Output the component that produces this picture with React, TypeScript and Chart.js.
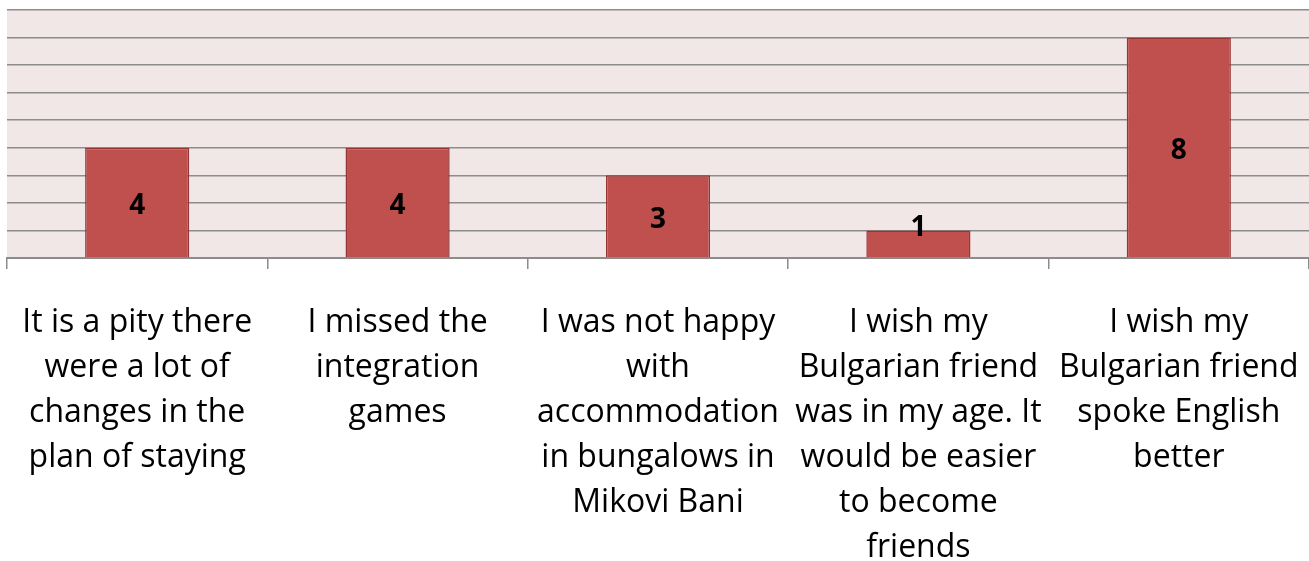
import React, { useEffect, useRef } from "react";
import { Chart, registerables } from "chart.js";

Chart.register(...registerables);

const categories: string[][] = [
  ["It is a pity there", "were a lot of", "changes in the", "plan of staying"],
  ["I missed the", "integration", "games"],
  ["I was not happy", "with", "accommodation", "in bungalows in", "Mikovi Bani"],
  ["I wish my", "Bulgarian friend", "was in my age. It", "would be easier", "to become", "friends"],
  ["I wish my", "Bulgarian friend", "spoke English", "better"],
];
const values: number[] = [4, 4, 3, 1, 8];
const yMax = 9;

const bgPlugin = {
  id: "bgPlugin",
  beforeDraw(chart: any) {
    const { ctx, chartArea } = chart;
    ctx.save();
    ctx.fillStyle = "#F2E7E7";
    ctx.fillRect(chartArea.left, chartArea.top, chartArea.right - chartArea.left, chartArea.bottom - chartArea.top);
    ctx.restore();
  },
};

const labelPlugin = {
  id: "labelPlugin",
  afterDatasetsDraw(chart: any) {
    const { ctx } = chart;
    const meta = chart.getDatasetMeta(0);
    ctx.save();
    ctx.font = "bold 28px 'Open Sans', sans-serif";
    ctx.fillStyle = "#000";
    ctx.textAlign = "center";
    ctx.textBaseline = "middle";
    meta.data.forEach((bar: any, i: number) => {
      let y = (bar.y + bar.base) / 2 + 4;
      if (bar.base - bar.y < 40) y = bar.y - 2;
      ctx.fillText(String(values[i]), bar.x, y);
    });
    ctx.restore();
  },
};

export default function App() {
  const ref = useRef<HTMLCanvasElement>(null);
  useEffect(() => {
    if (!ref.current) return;
    const chart = new Chart(ref.current, {
      type: "bar",
      data: {
        labels: categories,
        datasets: [
          {
            data: values,
            backgroundColor: "#C0504D",
            borderColor: "#943634",
            borderWidth: 1.5,
            barPercentage: 0.4,
            categoryPercentage: 1,
          },
        ],
      },
      options: {
        animation: false,
        responsive: false,
        maintainAspectRatio: false,
        layout: { padding: { left: 7, top: 10, right: 0, bottom: 0 } },
        plugins: { legend: { display: false }, tooltip: { enabled: false } },
        scales: {
          x: {
            afterFit: (scale: any) => {
              scale.height = 303;
              scale.paddingLeft = 0;
              scale.paddingRight = 0;
            },
            grid: { offset: true, drawOnChartArea: false, color: "#8C8C8C", tickLength: 11, lineWidth: 1.5 },
            border: { color: "#8C8C8C", width: 2 },
            ticks: {
              color: "#000",
              maxRotation: 0,
              autoSkip: false,
              padding: 31,
              font: { family: "'Open Sans', sans-serif", size: 32, lineHeight: "45px" as any },
            },
          },
          y: {
            min: 0,
            max: yMax,
            ticks: { display: false, stepSize: 1 },
            grid: { color: "#8C8C8C", lineWidth: 1.5, drawTicks: false },
            border: { display: false },
          },
        },
      },
      plugins: [bgPlugin, labelPlugin],
    });
    return () => chart.destroy();
  }, []);
  return (
    <canvas
      ref={ref}
      width={1309}
      height={561}
      style={{ position: "absolute", left: 0, top: 0, width: 1309, height: 561 }}
    />
  );
}
